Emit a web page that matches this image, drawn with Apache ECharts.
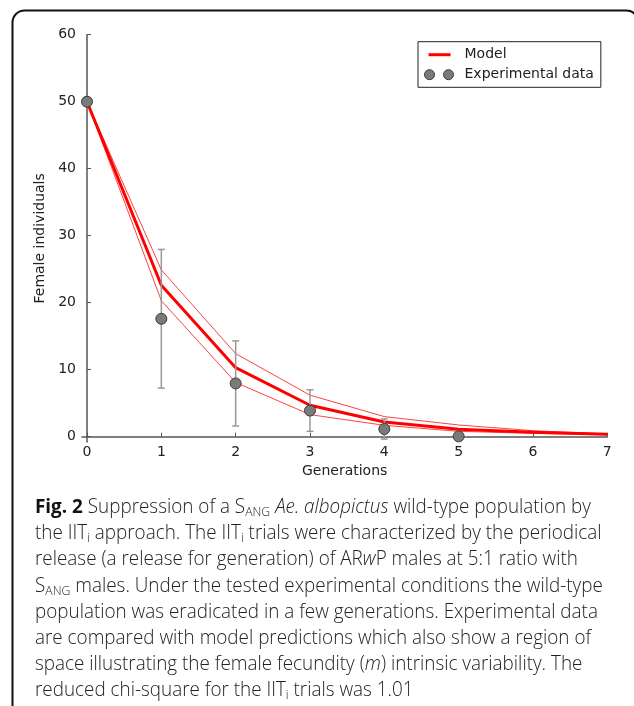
<!DOCTYPE html>
<html>
<head>
<meta charset="utf-8">
<script src="https://cdn.jsdelivr.net/npm/echarts@6/dist/echarts.min.js"></script>
<style>
  html, body { margin: 0; padding: 0; background: #fff; }
  #chart { position: absolute; left: 0; top: 0; width: 634px; height: 706px; }
  #caption {
    position: absolute; left: 35px; top: 493px;
    font-family: "Open Sans", "Noto Sans", sans-serif;
    font-size: 20px; font-weight: 300; line-height: 26.2px; color: #222;
    transform-origin: 0 0; white-space: nowrap;
  }
  #caption b { color: #111; font-weight: 700; }
  #caption sub { font-size: 13px; vertical-align: -3px; line-height: 0; }
</style>
</head>
<body>
<div id="chart"></div>
<div id="caption">
  <div><b>Fig. 2</b> Suppression of a S<sub>ANG</sub> <i>Ae. albopictus</i> wild-type population by</div>
  <div>the IIT<sub>i</sub> approach. The IIT<sub>i</sub> trials were characterized by the periodical</div>
  <div>release (a release for generation) of AR<i>w</i>P males at 5:1 ratio with</div>
  <div>S<sub>ANG</sub> males. Under the tested experimental conditions the wild-type</div>
  <div id="refline">population was eradicated in a few generations. Experimental data</div>
  <div>are compared with model predictions which also show a region of</div>
  <div>space illustrating the female fecundity (<i>m</i>) intrinsic variability. The</div>
  <div>reduced chi-square for the IIT<sub>i</sub> trials was 1.01</div>
</div>
<script>
// generations on the x axis
var generations = [0, 1, 2, 3, 4, 5, 6, 7];
// model prediction (thick red) and the fecundity band (thin red)
var modelMean  = [50, 22.6, 10.3, 4.7, 2.2, 1.1, 0.65, 0.35];
var modelUpper = [50, 24.9, 12.4, 6.2, 3.0, 1.75, 0.9, 0.4];
var modelLower = [50, 20.3, 8.1, 3.3, 1.7, 0.8, 0.5, 0.3];
// experimental data with error bars
var expGen   = [0, 1, 2, 3, 4, 5];
var expValue = [50, 17.6, 7.95, 3.9, 1.15, 0.05];
var expError = [0, 10.35, 6.35, 3.1, 1.5, 0];
// tick labels
var xTicks = [0, 1, 2, 3, 4, 5, 6, 7];
var yTicks = [0, 10, 20, 30, 40, 50, 60];

function pairs(xs, ys) {
  return xs.map(function (x, i) { return [x, ys[i]]; });
}

var myChart = echarts.init(document.getElementById('chart'));
var font = 'DejaVu Sans';
var axisColor = '#555';

var option = {
  animation: false,
  textStyle: { fontFamily: font },
  graphic: [{
    type: 'rect',
    shape: { x: 12.5, y: 10.5, width: 626, height: 730, r: 12 },
    style: { fill: 'none', stroke: '#111', lineWidth: 2 },
    silent: true
  }],
  grid: { left: 82, right: 26.7, top: 34.7, bottom: 264 },
  legend: {
    left: 418, top: 41.7,
    orient: 'vertical',
    padding: [6, 7, 5.6, 6],
    itemGap: 6,
    itemWidth: 35,
    itemHeight: 12,
    borderColor: '#222',
    borderWidth: 1,
    textStyle: { fontFamily: font, fontSize: 14, lineHeight: 14, color: '#222' },
    data: [
      {
        name: 'Model',
        icon: 'path://M0,5L0,5M35,5L35,5M4,4h22v3h-22z',
        itemStyle: { color: '#ff0000', borderWidth: 0 }
      },
      {
        name: 'Experimental data',
        icon: 'path://M0,0L0,0M35,10L35,10M0,5a5,5 0 1,0 10,0a5,5 0 1,0 -10,0zM19,5a5,5 0 1,0 10,0a5,5 0 1,0 -10,0z',
        itemStyle: { color: '#7a7a7a', borderColor: '#3a3a3a', borderWidth: 1 }
      }
    ]
  },
  xAxis: {
    type: 'value',
    min: -0.0673,
    max: 7,
    name: 'Generations',
    nameLocation: 'middle',
    nameGap: 18,
    nameTextStyle: { fontFamily: font, fontSize: 14, color: '#222' },
    axisLine: { lineStyle: { color: axisColor, width: 1.5 } },
    axisTick: { show: true, inside: true, length: 4, customValues: xTicks, lineStyle: { color: axisColor } },
    axisLabel: { customValues: xTicks, margin: 3, fontSize: 14, color: '#222', fontFamily: font },
    splitLine: { show: false }
  },
  yAxis: {
    type: 'value',
    min: -0.79,
    max: 60,
    name: 'Female individuals',
    nameLocation: 'middle',
    nameGap: 26,
    nameTextStyle: { fontFamily: font, fontSize: 14, color: '#222' },
    axisLine: { show: true, lineStyle: { color: axisColor, width: 1.5 } },
    axisTick: { show: true, inside: true, length: 4, customValues: yTicks, lineStyle: { color: axisColor } },
    axisLabel: { customValues: yTicks, margin: 6, fontSize: 14, color: '#222', fontFamily: font },
    splitLine: { show: false }
  },
  series: [
    {
      name: 'upper',
      type: 'line',
      data: pairs(generations, modelUpper),
      symbol: 'none',
      silent: true,
      lineStyle: { color: '#ff0000', width: 1, opacity: 0.75 },
      z: 2
    },
    {
      name: 'lower',
      type: 'line',
      data: pairs(generations, modelLower),
      symbol: 'none',
      silent: true,
      lineStyle: { color: '#ff0000', width: 1, opacity: 0.75 },
      z: 2
    },
    {
      name: 'Model',
      type: 'line',
      data: pairs(generations, modelMean),
      symbol: 'none',
      itemStyle: { color: '#ff0000' },
      lineStyle: { color: '#ff0000', width: 3 },
      z: 3
    },
    {
      name: 'errors',
      type: 'custom',
      silent: true,
      data: expGen.map(function (g, i) { return [g, expValue[i], expError[i]]; }),
      renderItem: function (params, api) {
        var x = api.value(0), y = api.value(1), e = api.value(2);
        if (!e) return null;
        var top = api.coord([x, y + e]);
        var bot = api.coord([x, y - e]);
        var st = { stroke: '#999', lineWidth: 1.5 };
        var hw = 3.5;
        return {
          type: 'group',
          children: [
            { type: 'line', shape: { x1: top[0], y1: top[1], x2: bot[0], y2: bot[1] }, style: st },
            { type: 'line', shape: { x1: top[0] - hw, y1: top[1], x2: top[0] + hw, y2: top[1] }, style: st },
            { type: 'line', shape: { x1: bot[0] - hw, y1: bot[1], x2: bot[0] + hw, y2: bot[1] }, style: st }
          ]
        };
      },
      z: 4
    },
    {
      name: 'Experimental data',
      type: 'scatter',
      data: pairs(expGen, expValue),
      symbol: 'circle',
      symbolSize: 11,
      itemStyle: { color: '#7a7a7a', borderColor: '#3a3a3a', borderWidth: 1, opacity: 1 },
      z: 5
    }
  ]
};

if (option && typeof option === "object") {
  myChart.setOption(option, true);
}

// squeeze the caption so its long lines end where the reference's do
var cap = document.getElementById('caption');
var ref = document.getElementById('refline');
var w = ref.scrollWidth;
var s = 568 / w;
cap.style.transform = 'scaleX(' + s + ')';
</script>
</body>
</html>
